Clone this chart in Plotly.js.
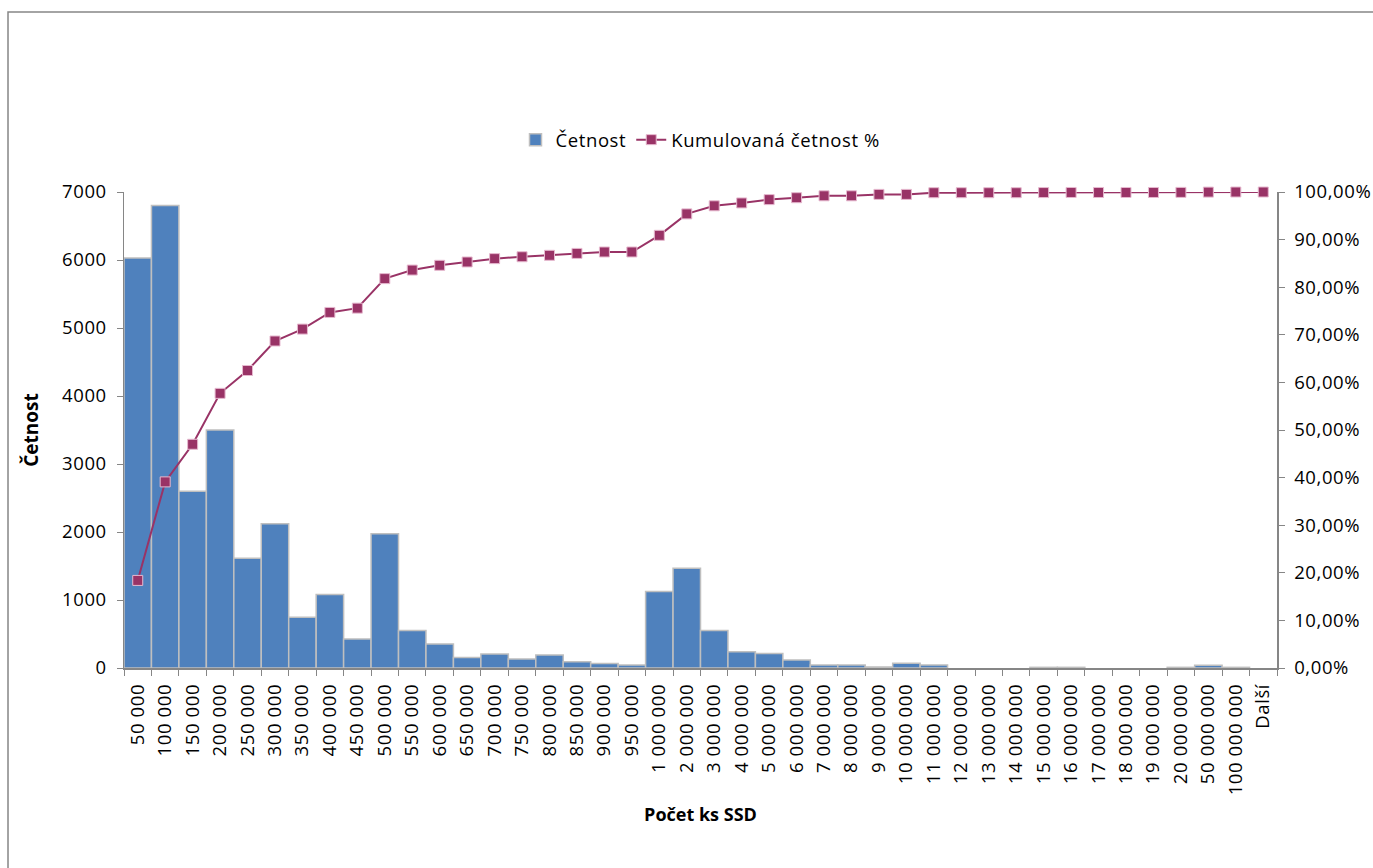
<!DOCTYPE html>
<html>
<head>
<meta charset="utf-8">
<script src="https://cdn.plot.ly/plotly-3.0.1.min.js"></script>
<style>html,body{margin:0;padding:0;background:#fff;}#chart{width:1373px;height:868px;}
.xtick text,.ytick text,.y2tick text,.legendtext{letter-spacing:0.6px;}</style>
</head>
<body>
<div id="chart"></div>
<script>
const categories = ["50 000","100 000","150 000","200 000","250 000","300 000","350 000","400 000","450 000","500 000",
  "550 000","600 000","650 000","700 000","750 000","800 000","850 000","900 000","950 000",
  "1 000 000","2 000 000","3 000 000","4 000 000","5 000 000","6 000 000","7 000 000","8 000 000","9 000 000","10 000 000",
  "11 000 000","12 000 000","13 000 000","14 000 000","15 000 000","16 000 000","17 000 000","18 000 000","19 000 000","20 000 000",
  "50 000 000","100 000 000","Další"];
const cetnost = [6030,6800,2600,3500,1615,2120,746,1080,427,1975,
  550,354,156,206,133,192,93,68,44,
  1124,1468,550,240,215,118,44,44,15,70,
  45,0,0,0,10,10,0,0,0,10,
  40,10,0];
const kumulovana = [18.4,39.1,47.0,57.7,62.5,68.7,71.2,74.7,75.6,81.8,
  83.6,84.6,85.3,86.0,86.4,86.7,87.1,87.4,87.4,
  90.9,95.4,97.1,97.7,98.4,98.8,99.2,99.2,99.5,99.5,
  99.85,99.85,99.85,99.85,99.88,99.9,99.9,99.9,99.9,99.92,
  99.98,100,100];
const leftTicks = [0,1000,2000,3000,4000,5000,6000,7000];

const FONT = "Open Sans, Lato, sans-serif";
const FS = 18.5;
const traces = [
  {type:'bar', name:'Četnost', x:categories, y:cetnost,
   marker:{color:'#4F81BD', line:{color:'#BFBFBF', width:cetnost.map(v=>v>0?1.5:0)}}},
  {type:'scatter', mode:'lines+markers', name:'Kumulovaná četnost %', x:categories,
   y:kumulovana.map(v=>v/100), yaxis:'y2', cliponaxis:false,
   line:{color:'#993366', width:2},
   marker:{symbol:'square', size:10, color:'#993366', line:{color:'#E6B9CF', width:1}}}
];
const layout = {
  width:1373, height:868,
  margin:{l:124, r:96, t:192, b:200},
  paper_bgcolor:'#fff', plot_bgcolor:'#fff',
  separators:', ',
  font:{family:FONT, size:FS, color:'#000'},
  bargap:0,
  showlegend:true,
  legend:{orientation:'h', x:0.5, xanchor:'center', y:1.109, yanchor:'middle',
          font:{family:FONT, size:FS}, traceorder:'normal'},
  xaxis:{type:'category', range:[-0.5, categories.length-0.5], tickangle:-90, tickson:'boundaries',
         ticks:'outside', ticklen:6,
         tickcolor:'#868686', showline:true, linecolor:'#868686', linewidth:1.5, showgrid:false,
         ticklabelstandoff:7, tickfont:{family:FONT, size:FS},
         title:{text:'<b>Počet ks SSD</b>', font:{family:FONT, size:18}, standoff:14}},
  yaxis:{range:[0,7000], tickvals:leftTicks, ticks:'outside', ticklen:6, tickcolor:'#868686',
         showline:true, linecolor:'#868686', linewidth:1.5, showgrid:false, zeroline:false,
         ticklabelstandoff:6, tickfont:{family:FONT, size:FS},
         title:{text:'<b>Četnost</b>', font:{family:FONT, size:19}, standoff:18}},
  yaxis2:{overlaying:'y', side:'right', range:[0,1], dtick:0.1, tick0:0, tickformat:'.2%',
          ticks:'outside', ticklen:6, tickcolor:'#868686', showline:true, linecolor:'#868686',
          linewidth:1.5, showgrid:false, zeroline:false, ticklabelstandoff:6,
          tickfont:{family:FONT, size:FS}},
  shapes:[{type:'rect', xref:'paper', yref:'paper', x0:-0.1006, x1:1.09, y0:-0.45, y1:1.378,
           line:{color:'#868686', width:1.5}, fillcolor:'rgba(0,0,0,0)'}]
};
Plotly.newPlot('chart', traces, layout, {displayModeBar:false, staticPlot:true});
</script>
</body>
</html>
